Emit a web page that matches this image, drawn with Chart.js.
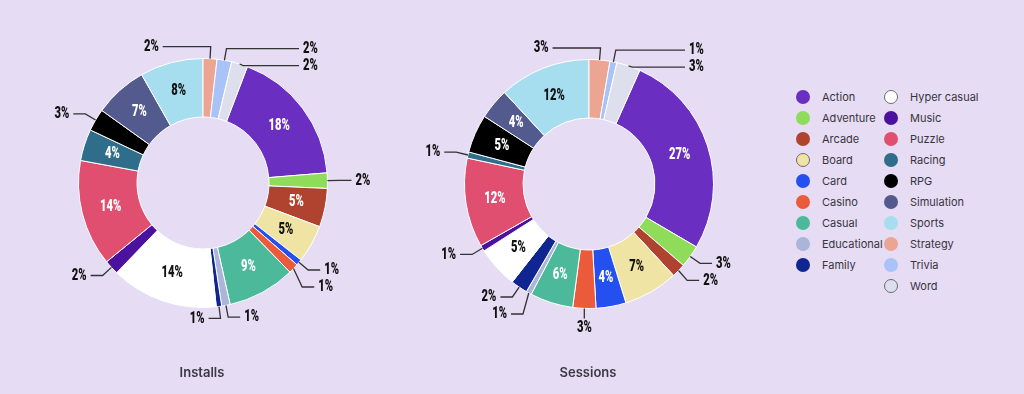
<!DOCTYPE html>
<html>
<head>
<meta charset="utf-8">
<script src="https://cdn.jsdelivr.net/npm/chart.js@4.4.1/dist/chart.umd.min.js"></script>
<style>
    body {
        margin: 0;
        width: 1024px;
        height: 394px;
        overflow: hidden;
        position: relative;
        background: #e6dcf4;
        font-family: Inter, 'Noto Sans', sans-serif;
    }
    .chart-box { position: absolute; top: 0; width: 400px; height: 366px; }
    .chart-title {
        position: absolute;
        top: 364px;
        width: 200px;
        text-align: center;
        font-size: 13px;
        font-weight: 600;
        color: #3b3842;
    }
    #legend {
        position: absolute;
        left: 796px;
        top: 86px;
        display: grid;
        grid-template-rows: repeat(10, 21px);
        grid-template-columns: 88px 110px;
    }
    .legend-item {
        display: flex;
        align-items: center;
        font-size: 11px;
        color: #38353e;
        white-space: nowrap;
    }
    .legend-dot {
        flex: 0 0 14px;
        width: 14px;
        height: 14px;
        border-radius: 50%;
        margin-right: 12px;
        box-sizing: border-box;
    }
</style>
</head>
<body>
<div class="chart-box" style="left: 3px;"><canvas id="installs-chart" width="400" height="366"></canvas></div>
<div class="chart-box" style="left: 389px;"><canvas id="sessions-chart" width="400" height="366"></canvas></div>
<div class="chart-title" style="left: 102px;">Installs</div>
<div class="chart-title" style="left: 488px;">Sessions</div>
<div id="legend"></div>

<script>
const categories = ['Action', 'Adventure', 'Arcade', 'Board', 'Card', 'Casino', 'Casual', 'Educational', 'Family',
    'Hyper casual', 'Music', 'Puzzle', 'Racing', 'RPG', 'Simulation', 'Sports', 'Strategy', 'Trivia', 'Word'];

const colors = ['#6a2fc0', '#8edc5a', '#b0432f', '#f0e4a4', '#2450f0', '#ec5a3c', '#4cba9a', '#aab5d8', '#0f2591',
    '#ffffff', '#4b12a0', '#e14f70', '#2e6e8a', '#000000', '#535b8e', '#a6def0', '#eca592', '#a9c2f7', '#dde0ec'];

// shares in %
const installs = [17.9, 2.0, 5.0, 4.9, 0.8, 1.3, 8.8, 1.1, 0.7, 13.9, 1.9, 13.8, 4.1, 2.9, 6.9, 8.2, 1.8, 1.9, 2.1];
const sessions = [26.8, 2.9, 1.8, 7.1, 3.9, 3.0, 5.6, 0.7, 2.2, 5.4, 0.8, 11.6, 0.8, 5.0, 4.0, 11.9, 2.7, 0.9, 3.1];

const labelFont = "Roboto, 'Noto Sans', sans-serif";

function luminance(hex) {
    const v = [1, 3, 5].map(k => {
        const c = parseInt(hex.substr(k, 2), 16) / 255;
        return c <= 0.04045 ? c / 12.92 : Math.pow((c + 0.055) / 1.055, 2.4);
    });
    return 0.2126 * v[0] + 0.7152 * v[1] + 0.0722 * v[2];
}

// narrow heavy text: draw squeezed horizontally
function drawText(ctx, text, x, y, align) {
    const squeeze = 0.66;
    ctx.save();
    ctx.translate(x, y);
    ctx.scale(squeeze, 1);
    ctx.textAlign = align;
    ctx.fillText(text, 0, 0);
    ctx.restore();
}

const sliceLabels = {
    id: 'sliceLabels',
    afterDatasetsDraw(chart) {
        const ctx = chart.ctx;
        const values = chart.data.datasets[0].data;
        const meta = chart.getDatasetMeta(0);
        const total = values.reduce((a, b) => a + b, 0);
        const outside = [];

        ctx.save();
        ctx.font = '900 17px ' + labelFont;
        ctx.textBaseline = 'middle';

        meta.data.forEach((arc, i) => {
            const p = arc.getProps(['x', 'y', 'startAngle', 'endAngle', 'innerRadius', 'outerRadius'], true);
            const pct = values[i] / total * 100;
            const a = (p.startAngle + p.endAngle) / 2;
            const text = Math.round(pct) + '%';
            if (pct >= 3.5) {
                const r = (p.innerRadius + p.outerRadius) / 2;
                ctx.fillStyle = luminance(colors[i]) > 0.5 ? '#111' : '#fff';
                drawText(ctx, text, p.x + r * Math.cos(a), p.y + r * Math.sin(a), 'center');
            } else {
                const c = Math.cos(a), s = Math.sin(a);
                const R = p.outerRadius + 12;
                outside.push({
                    text, c, s,
                    right: c > (s < 0 ? 0.1 : 0.15),
                    cx: p.x, cy: p.y, r: p.outerRadius,
                    ex: p.x + R * c, y: p.y + R * s
                });
            }
        });

        // push labels apart on each side
        [true, false].forEach(side => {
            const list = outside.filter(o => o.right === side).sort((m, n) => m.y - n.y);
            for (let k = 1; k < list.length; k++) {
                if (list[k].y < list[k - 1].y + 17) list[k].y = list[k - 1].y + 17;
            }
        });

        ctx.strokeStyle = '#333';
        ctx.lineWidth = 1.3;
        ctx.fillStyle = '#111';
        outside.forEach(o => {
            const ax = o.cx + o.r * o.c, ay = o.cy + o.r * o.s;
            ctx.beginPath();
            ctx.moveTo(ax, ay);
            if (o.s > 0 && Math.abs(o.c) < 0.06) {
                ctx.lineTo(ax, o.cy + o.r + 10);
                ctx.stroke();
                drawText(ctx, o.text, ax, o.cy + o.r + 19, 'center');
                return;
            }
            let hx;
            if (o.s < -0.85) {
                hx = o.right ? Math.max(o.ex + 14, o.cx + 96) : o.ex - 48;
            } else {
                hx = o.right ? o.ex + 12 : o.ex - 12;
            }
            ctx.lineTo(o.ex, o.y);
            ctx.lineTo(hx, o.y);
            ctx.stroke();
            drawText(ctx, o.text, o.right ? hx + 4 : hx - 4, o.y, o.right ? 'left' : 'right');
        });
        ctx.restore();
    }
};

function makeDonut(id, values, padTop, padBottom) {
    const total = values.reduce((a, b) => a + b, 0);
    const tail = values.slice(-3).reduce((a, b) => a + b, 0);
    return new Chart(document.getElementById(id), {
        type: 'doughnut',
        data: {
            labels: categories,
            datasets: [{
                data: values,
                backgroundColor: colors,
                borderColor: '#ffffff',
                borderWidth: 1
            }]
        },
        options: {
            responsive: false,
            animation: false,
            cutout: '53%',
            rotation: tail / total * 360,
            layout: { padding: { left: 75, right: 75, top: padTop, bottom: padBottom } },
            plugins: {
                legend: { display: false },
                tooltip: { enabled: false }
            }
        },
        plugins: [sliceLabels]
    });
}

makeDonut('installs-chart', installs, 58, 58);
makeDonut('sessions-chart', sessions, 59, 57);

// legend: 9 items in the first column, 10 in the second
const legend = document.getElementById('legend');
categories.forEach((name, i) => {
    const item = document.createElement('div');
    item.className = 'legend-item';
    item.style.gridColumn = i < 9 ? 1 : 2;
    item.style.gridRow = i < 9 ? i + 1 : i - 8;
    const border = luminance(colors[i]) > 0.7 ? '1px solid #6e6a72' : 'none';
    item.innerHTML = `<span class="legend-dot" style="background:${colors[i]};border:${border}"></span>${name}`;
    legend.appendChild(item);
});
</script>
</body>
</html>
